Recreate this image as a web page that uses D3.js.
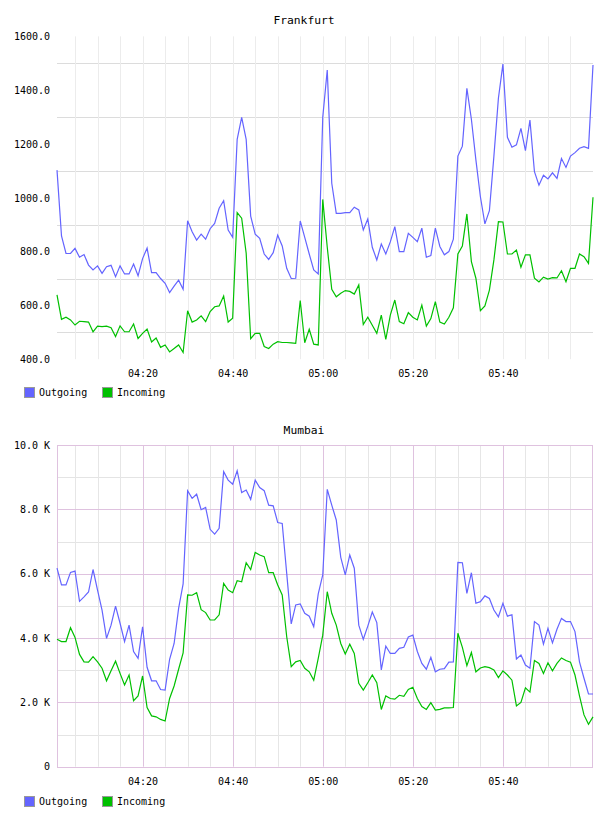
<!DOCTYPE html>
<html><head><meta charset="utf-8">
<script src="https://cdn.jsdelivr.net/npm/d3@7"></script>
<style>
html,body{margin:0;padding:0;background:#fff;}
text{font-family:"DejaVu Sans Mono",monospace;fill:#000;}
</style></head>
<body>
<svg id="c" width="608" height="816"></svg>
<script>
// ---- data ----
const startTime = new Date(2000,0,1,4,1);
const endTime = new Date(2000,0,1,6,0);
const seriesNames = ["Outgoing","Incoming"];
const seriesColors = ["#6464ff","#00c000"];
const timeTickLabels = ["04:20","04:40","05:00","05:20","05:40"];

const frankfurtOutgoing = [1103,858,793,793,812,779,789,750,732,747,719,744,749,707,747,717,717,754,710,774,813,722,722,700,682,648,672,694,660,915,874,843,865,846,885,905,961,989,880,853,1217,1299,1217,932,865,849,791,771,796,861,821,738,700,701,914,853,791,732,717,1299,1475,1054,942,942,945,945,965,955,880,921,816,769,828,791,836,893,800,800,868,853,837,887,779,785,887,819,788,800,846,1155,1192,1407,1292,1141,1004,903,952,1155,1370,1497,1225,1188,1197,1258,1175,1289,1097,1047,1084,1070,1093,1072,1146,1113,1155,1168,1184,1190,1184,1494];
const frankfurtIncoming = [639,548,556,546,527,541,540,538,502,523,521,523,517,484,524,502,502,531,477,496,512,464,479,444,453,427,440,453,425,580,538,546,561,540,577,595,598,635,538,552,945,924,794,476,496,496,447,440,456,465,462,462,461,459,618,461,511,456,453,994,816,660,632,645,655,652,642,676,529,556,526,496,564,474,564,620,540,532,573,556,546,601,523,551,614,538,531,556,591,791,821,940,763,701,580,598,657,769,911,910,791,791,806,742,788,788,701,687,705,698,703,702,729,688,738,738,791,781,756,1002];
const mumbaiOutgoing = [6170,5650,5650,6040,6080,5140,5280,5430,6130,5490,4870,3990,4400,4990,4460,3890,4400,3580,3370,4350,3090,2670,2670,2400,2380,3340,3830,4920,5680,8580,8340,8470,7990,8060,7380,7230,7410,9170,8910,8780,9200,8520,8600,8310,8910,8680,8580,8130,8110,7590,7560,6010,4440,5030,5060,4770,4680,4350,5370,5960,8620,8130,7670,6510,5960,6580,6170,4400,3960,4370,4810,4480,3010,3750,3520,3520,3680,3710,4030,4090,3580,3210,3030,3400,2950,3030,3050,3250,3260,6350,6340,5390,6030,5080,5130,5310,5230,4870,4660,5080,4680,4720,3350,3470,3160,3060,4510,4400,3810,4300,3850,4270,4610,4510,4510,4200,3260,2750,2260,2260];
const mumbaiIncoming = [3960,3890,3890,4320,4020,3490,3260,3250,3420,3260,3060,2670,2980,3280,2900,2540,2850,2050,2200,2820,1840,1580,1550,1470,1420,2120,2510,3030,3540,5340,5330,5410,4880,4790,4560,4560,4720,5700,5490,5410,5780,5750,6340,6130,6660,6580,6530,6030,6030,5650,5340,4040,3110,3260,3300,3060,2950,2690,3370,4090,5440,4770,4400,3830,3500,3810,3520,2590,2380,2610,2850,2610,1780,2200,2120,2100,2220,2190,2400,2470,2120,1870,1780,1990,1760,1780,1830,1830,1840,4150,3710,3140,3550,2950,3070,3110,3080,3010,2770,2980,2850,2690,1890,2000,2450,2320,3300,3210,2900,3230,2980,3210,3380,3300,3250,2850,2200,1610,1320,1550];

const frankfurtYTicks = [400,600,800,1000,1200,1400,1600];
const frankfurtYGrid = [500,700,900,1100,1300,1500];
const mumbaiYTicks = [0,2000,4000,6000,8000,10000];
const mumbaiYGrid = [1000,3000,5000,7000,9000];

const times = d3.timeMinute.range(startTime, d3.timeMinute.offset(endTime,1));
const fmtHM = d3.timeFormat("%H:%M");
const tickTimes = timeTickLabels.map(s => { const [h,m] = s.split(":").map(Number); return new Date(2000,0,1,h,m); });
const gridTimes = d3.timeMinute.every(5).range(d3.timeMinute.offset(startTime,1), endTime);

const svg = d3.select("#c");

function drawChart(cfg){
  const g = svg.append("g");
  const x = d3.scaleTime().domain([startTime,endTime]).range([57,593]);
  const y = d3.scaleLinear().domain(cfg.yDomain).range([cfg.bottom,cfg.top]);
  const isTick = t => timeTickLabels.includes(fmtHM(t));

  // horizontal grid (minor)
  g.selectAll(".hg").data(cfg.yGrid).join("line")
    .attr("x1",57).attr("x2",593)
    .attr("y1",d=>Math.round(y(d))+0.5).attr("y2",d=>Math.round(y(d))+0.5)
    .attr("stroke",cfg.hColor).attr("stroke-width",1);
  // vertical grid (minor)
  g.selectAll(".vg").data(gridTimes.filter(d => !(cfg.framed && isTick(d)))).join("line")
    .attr("x1",d=>Math.round(x(d))+0.5).attr("x2",d=>Math.round(x(d))+0.5)
    .attr("y1",cfg.top).attr("y2",cfg.bottom)
    .attr("stroke",cfg.vColor).attr("stroke-width",1);
  if (cfg.framed){
    g.selectAll(".vm").data(gridTimes.filter(isTick)).join("line")
      .attr("x1",d=>Math.round(x(d))+0.5).attr("x2",d=>Math.round(x(d))+0.5)
      .attr("y1",cfg.top).attr("y2",cfg.bottom)
      .attr("stroke",cfg.majorColor).attr("stroke-width",1);
    g.selectAll(".hm").data(cfg.yTicks.filter(v=>v!==cfg.yDomain[0]&&v!==cfg.yDomain[1])).join("line")
      .attr("x1",57).attr("x2",593)
      .attr("y1",d=>Math.round(y(d))+0.5).attr("y2",d=>Math.round(y(d))+0.5)
      .attr("stroke",cfg.majorColor).attr("stroke-width",1);
    g.append("rect").attr("x",57.5).attr("y",Math.round(cfg.top)+0.5)
      .attr("width",535).attr("height",Math.round(cfg.bottom)-Math.round(cfg.top))
      .attr("fill","none").attr("stroke",cfg.majorColor);
  }

  // lines
  const line = d3.line().x((d,i)=>x(times[i])).y(d=>y(d));
  cfg.series.forEach((s,k)=>{
    g.append("path").datum(s).attr("d",line).attr("fill","none")
      .attr("stroke",seriesColors[k]).attr("stroke-width",1.2).attr("stroke-linejoin","miter");
  });

  // y axis labels
  const ya = d3.axisLeft(y).tickValues(cfg.yTicks).tickFormat(cfg.yFormat).tickSize(0).tickPadding(0);
  const yg = g.append("g").attr("transform","translate(50,0)").call(ya);
  yg.select(".domain").remove();
  yg.selectAll("text").attr("font-size",10).attr("font-family","DejaVu Sans Mono").attr("fill","#000");

  // x axis labels
  const xa = d3.axisBottom(x).tickValues(tickTimes).tickFormat(fmtHM).tickSize(0).tickPadding(0);
  const xg = g.append("g").attr("transform",`translate(0,${cfg.xLabelY})`).call(xa);
  xg.select(".domain").remove();
  xg.selectAll("text").attr("font-size",10).attr("font-family","DejaVu Sans Mono").attr("fill","#000").attr("dy","0");

  // title
  g.append("text").attr("x",304).attr("y",cfg.titleY).attr("text-anchor","middle")
    .attr("font-size",11.3).text(cfg.title).attr("fill","#222");

  // legend
  const lg = g.append("g").attr("transform",`translate(24,${cfg.legendY})`);
  seriesNames.forEach((n,k)=>{
    const off = k*78;
    lg.append("rect").attr("x",off+0.5).attr("y",0.5).attr("width",10).attr("height",10)
      .attr("fill",seriesColors[k]).attr("stroke","#999");
    lg.append("text").attr("x",off+15).attr("y",9).attr("font-size",10).text(n);
  });
}

drawChart({
  title:"Frankfurt", titleY:24,
  yDomain:[400,1600], top:36.4, bottom:359.2,
  yTicks:frankfurtYTicks, yGrid:frankfurtYGrid,
  yFormat:d3.format(".1f"),
  series:[frankfurtOutgoing, frankfurtIncoming],
  framed:false, vColor:"#ececec", hColor:"#dcdcdc",
  xLabelY:377, legendY:387
});
drawChart({
  title:"Mumbai", titleY:434,
  yDomain:[0,10000], top:445, bottom:766.7,
  yTicks:mumbaiYTicks, yGrid:mumbaiYGrid,
  yFormat:v => v===0 ? "0" : (v/1000).toFixed(1)+" K",
  series:[mumbaiOutgoing, mumbaiIncoming],
  framed:true, vColor:"#e6e6e6", hColor:"#e4e4e4", majorColor:"#dfc2df",
  xLabelY:785, legendY:796
});
</script>
</body></html>
